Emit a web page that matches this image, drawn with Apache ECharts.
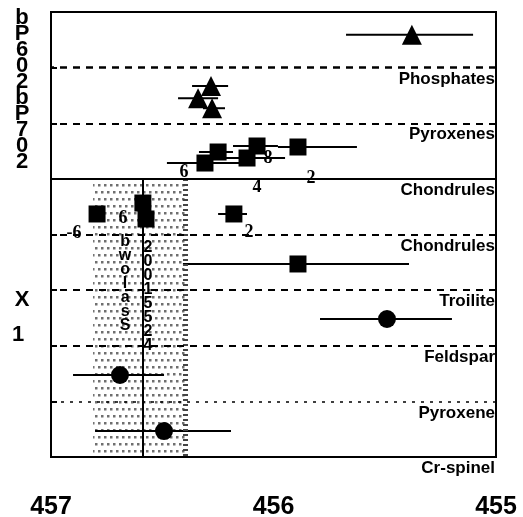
<!DOCTYPE html>
<html>
<head>
<meta charset="utf-8">
<script src="https://cdn.jsdelivr.net/npm/echarts@6/dist/echarts.min.js"></script>
<style>
  html, body { margin: 0; background: #fff; }
  #chart { width: 523px; height: 517px; }
</style>
</head>
<body>
<div id="chart"></div>
<script>
// ages in Ga, row = position counted from the top frame (0..8)
const triAge = [4.55378, 4.56281, 4.56339, 4.56276];
const triLo  = [4.55674, 4.56366, 4.56429, 4.56317];
const triHi  = [4.55103, 4.56204, 4.56249, 4.56218];
const triRow = [0.41, 1.33, 1.55, 1.73];

const sqAge = [4.56308, 4.56249, 4.56119, 4.56074, 4.5589, 4.56793, 4.56587, 4.56573, 4.56178, 4.5589];
const sqLo  = [4.56479, 4.56335, 4.56218, 4.56182, 4.5598, null, null, null, 4.56249, 4.56407];
const sqHi  = [4.56097, 4.56182, 4.55948, 4.5598, 4.55625, null, null, null, 4.56119, 4.55391];
const sqRow = [2.715, 2.517, 2.625, 2.409, 2.427, 3.631, 3.434, 3.721, 3.631, 4.53];

const dotAge = [4.5549, 4.5669, 4.56492];
const dotLo  = [4.55791, 4.56901, 4.56802];
const dotHi  = [4.55198, 4.56492, 4.56191];
const dotRow = [5.519, 6.526, 7.533];

// row dividers and their names
const dividerRow  = [1, 2, 3, 4, 5, 6, 7, 8];
const dividerName = ['Phosphates', 'Pyroxenes', 'Chondrules', 'Chondrules', 'Troilite', 'Feldspar', 'Pyroxene', 'Cr-spinel'];

// small numbers written next to points
const noteAge  = [4.56402, 4.56074, 4.56025, 4.55831, 4.56897, 4.56676, 4.5611];
const noteRow  = [2.876, 3.146, 2.625, 2.984, 3.973, 3.703, 3.955];
const noteText = ['6', '4', '8', '2', '-6', '6', '2'];

// text stacked inside the band
const bandNoteAge  = [4.56667, 4.56564];
const bandNoteRow  = [4.89, 5.12];
const bandNoteText = ['b\nw\no\nl\na\ns\nS', '2\n0\n0\n1\n5\n5\n2\n4'];

// shaded band and reference line
const bandAge = [4.56811, 4.56398];
const bandRow = [3, 8];
const refAge = 4.56587;

const chart = echarts.init(document.getElementById('chart'));

// dotted fill for the band
const tile = document.createElement('canvas');
tile.width = 12; tile.height = 14;
const tctx = tile.getContext('2d');
tctx.fillStyle = '#6f6f6f';
[[3, 3], [9, 3], [0, 10], [6, 10], [12, 10]].forEach(([x, y]) => tctx.fillRect(x - 1, y - 1, 2.5, 2.5));

function errBars(lo, hi, row) {
  const data = [];
  lo.forEach((l, i) => { if (l != null) data.push([l, hi[i], row[i]]); });
  return {
    type: 'custom',
    data: data,
    encode: { x: [0, 1], y: 2 },
    z: 3,
    silent: true,
    renderItem: (params, api) => {
      const a = api.coord([api.value(0), api.value(2)]);
      const b = api.coord([api.value(1), api.value(2)]);
      return { type: 'line', shape: { x1: a[0], y1: a[1], x2: b[0], y2: b[1] }, style: { stroke: '#000', lineWidth: 2 } };
    }
  };
}

function marks(age, row, symbol, size) {
  return {
    type: 'scatter',
    symbol: symbol,
    symbolSize: size,
    data: age.map((a, i) => [a, row[i]]),
    itemStyle: { color: '#000', opacity: 1 },
    z: 4,
    silent: true
  };
}

const lineStyles = [
  { type: [7, 6], width: 2.5 },
  { type: [7, 6], width: 2 },
  { type: 'solid', width: 2 },
  { type: [7, 6], width: 2 },
  { type: [7, 6], width: 2 },
  { type: [7, 6], width: 2 },
  { type: [3, 6], width: 1.5 },
  { type: 'solid', width: 0 }
];

const option = {
  animation: false,
  grid: {
    left: 51, right: 27, top: 12, bottom: 60,
    outerBoundsMode: 'none', containLabel: false,
    show: true, borderColor: '#000', borderWidth: 2
  },
  xAxis: {
    type: 'value',
    min: 4.55, max: 4.57, interval: 0.01, inverse: true,
    axisLine: { show: true, lineStyle: { color: '#000', width: 2 } },
    axisTick: { show: false },
    splitLine: { show: false },
    axisLabel: {
      margin: 38, color: '#000', fontSize: 25, fontWeight: 'bold',
      fontFamily: 'Liberation Sans, Arial, sans-serif',
      formatter: v => String(Math.round(v * 100))
    }
  },
  yAxis: {
    type: 'value',
    min: 0, max: 8, interval: 1, inverse: true,
    axisLine: { show: true, lineStyle: { color: '#000', width: 2 } },
    axisTick: { show: true, inside: true, length: 6, lineStyle: { color: '#000', width: 2 } },
    axisLabel: { show: false },
    splitLine: { show: false }
  },
  graphic: [
    {
      type: 'text', x: 22, y: 90,
      style: {
        text: 'b\nP\n6\n0\n2\nb\nP\n7\n0\n2', fill: '#000',
        font: 'bold 22px "Liberation Sans", Arial, sans-serif', lineHeight: 16,
        textAlign: 'center', textVerticalAlign: 'middle'
      }
    },
    {
      type: 'text', x: 22, y: 300,
      style: { text: 'X', fill: '#000', font: 'bold 22px "Liberation Sans", Arial, sans-serif', textAlign: 'center', textVerticalAlign: 'middle' }
    },
    {
      type: 'text', x: 18, y: 335,
      style: { text: '1', fill: '#000', font: 'bold 22px "Liberation Sans", Arial, sans-serif', textAlign: 'center', textVerticalAlign: 'middle' }
    }
  ],
  series: [
    {
      type: 'scatter',
      data: [],
      silent: true,
      markArea: {
        silent: true,
        itemStyle: { color: { image: tile, repeat: 'repeat' } },
        data: [[{ xAxis: bandAge[0], yAxis: bandRow[0] }, { xAxis: bandAge[1], yAxis: bandRow[1] }]]
      },
      markLine: {
        silent: true,
        symbol: 'none',
        data: [
          [{ coord: [bandAge[1], bandRow[0]], lineStyle: { color: '#444', width: 5, type: [2, 3] } },
           { coord: [bandAge[1], bandRow[1]] }],
          [{ coord: [refAge, bandRow[0]], lineStyle: { color: '#000', width: 2, type: 'solid' } },
           { coord: [refAge, bandRow[1]] }]
        ],
        label: { show: false }
      }
    },
    {
      type: 'scatter',
      data: [],
      silent: true,
      markLine: {
        silent: true,
        symbol: 'none',
        data: dividerRow.map((r, i) => ({
          yAxis: r,
          name: dividerName[i],
          lineStyle: Object.assign({ color: '#000' }, lineStyles[i])
        })),
        label: {
          show: true,
          position: 'insideStartBottom',
          formatter: p => p.name,
          color: '#000',
          fontSize: 17,
          fontWeight: 'bold',
          fontFamily: 'Liberation Sans, Arial, sans-serif',
          distance: [1, 3]
        }
      }
    },
    errBars(triLo, triHi, triRow),
    errBars(sqLo, sqHi, sqRow),
    errBars(dotLo, dotHi, dotRow),
    marks(triAge, triRow, 'triangle', 20),
    marks(sqAge, sqRow, 'rect', 17),
    marks(dotAge, dotRow, 'circle', 18),
    {
      type: 'scatter',
      symbolSize: 0,
      silent: true,
      z: 5,
      itemStyle: { color: '#000', opacity: 1 },
      data: noteAge.map((a, i) => [a, noteRow[i], noteText[i]]),
      label: {
        show: true, position: 'inside', formatter: p => p.value[2],
        color: '#000', fontSize: 18, fontWeight: 'bold', textBorderWidth: 0,
        fontFamily: 'Liberation Serif, Times New Roman, serif'
      }
    },
    {
      type: 'scatter',
      symbolSize: 0,
      silent: true,
      z: 5,
      itemStyle: { color: '#000', opacity: 1 },
      data: bandNoteAge.map((a, i) => [a, bandNoteRow[i], bandNoteText[i]]),
      label: {
        show: true, position: 'inside', formatter: p => p.value[2],
        color: '#000', fontSize: 16, fontWeight: 'bold', lineHeight: 14, textBorderWidth: 0,
        fontFamily: 'Liberation Sans, Arial, sans-serif'
      }
    }
  ]
};

chart.setOption(option);
</script>
</body>
</html>
